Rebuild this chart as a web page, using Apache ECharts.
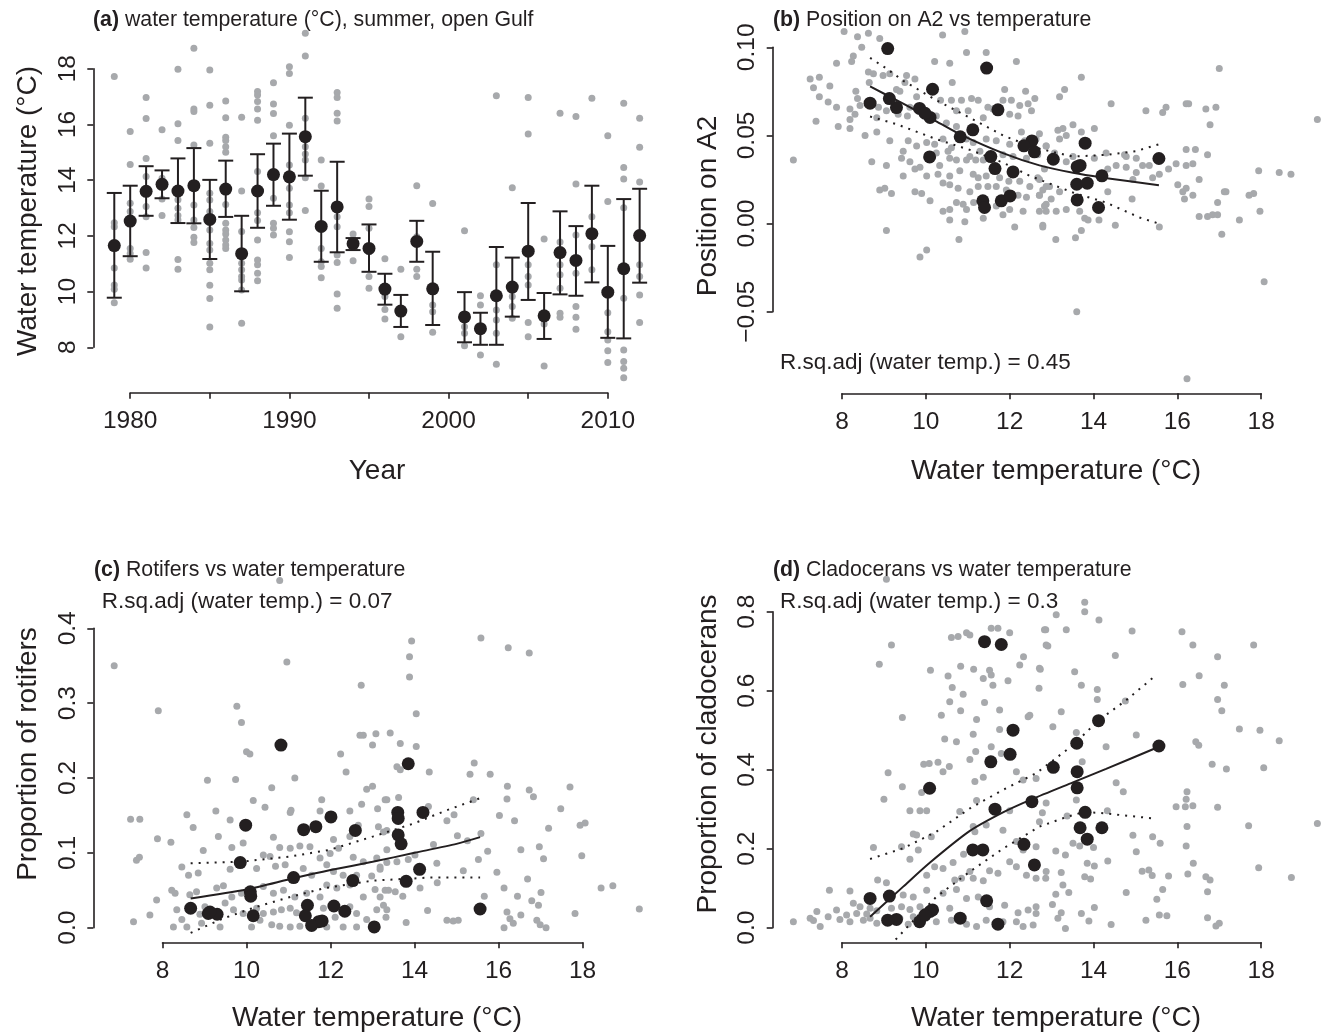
<!DOCTYPE html>
<html><head><meta charset="utf-8">
<script src="https://cdn.jsdelivr.net/npm/echarts@6/dist/echarts.min.js"></script>
<style>html,body{margin:0;padding:0;background:#fff}#c{width:1330px;height:1036px}</style>
</head><body><div id="c"></div>
<script>
// ---------- DATA ----------
const years = [1979,1980,1981,1982,1983,1984,1985,1986,1987,1988,1989,1990,1991,1992,1993,1994,1995,1996,1997,1998,1999,2001,2002,2003,2004,2005,2006,2007,2008,2009,2010,2011,2012];
const meanTemp = [11.65,12.53,13.60,13.85,13.61,13.80,12.59,13.68,11.36,13.61,14.20,14.12,15.56,12.34,13.04,11.72,11.55,10.09,9.30,11.80,10.10,9.09,8.67,9.85,10.16,11.45,9.13,11.40,11.12,12.08,9.98,10.82,12.01];
const ciHigh = [13.54,13.80,14.50,14.35,14.78,15.15,14.01,14.70,12.72,14.93,15.31,15.67,16.96,13.62,14.66,11.92,12.41,10.64,9.88,12.54,11.43,9.98,9.24,11.60,11.22,13.18,9.95,12.88,12.35,13.80,11.64,13.32,13.69];
const ciLow = [9.78,11.27,12.72,13.35,12.46,12.45,11.17,12.68,10.01,12.29,13.08,12.58,14.16,11.07,11.41,11.49,10.71,9.53,8.73,11.07,8.80,8.18,8.09,8.09,9.10,9.70,8.30,9.90,9.85,10.33,8.34,8.32,10.32];
const posA2 = [0.0312,0.0469,0.0223,0.0229,0.0134,0.0456,0.0407,0.0330,0.0129,0.0323,0.0271,0.0091,0.0369,0.0441,0.0365,0.0645,0.0380,0.0378,0.0658,0.0129,0.0602,0.0993,0.0683,0.0653,0.0762,0.0882,0.0709,0.0091,0.0532,0.0293,0.0626,0.0492,0.0157];
const rotifers = [0.135,0.063,0.154,0.219,0.124,0.062,0.130,0.112,0.131,0.146,0.154,0.078,0.025,0.022,0.001,0.008,0.003,0.048,0.018,0.009,0.042,0.019,0.026,0.087,0.016,0.030,0.021,0.016,0.067,0.029,0.137,0.244,0.148];
const cladocerans = [0.300,0.319,0.467,0.224,0.395,0.292,0.159,0.253,0.197,0.354,0.253,0.524,0.460,0.211,0.406,0.009,0.420,0.353,0.021,0.717,0.041,0.019,0.074,0.015,0.045,0.068,0.080,0.724,0.197,0.500,0.032,0.024,0.439];

const greyA = [
[1979,17.72],[1979,12.47],[1979,12.33],[1979,10.85],[1979,10.24],[1979,10.08],[1979,9.60],
[1980,15.75],[1980,14.56],[1980,13.17],[1980,12.87],[1980,11.55],[1980,11.37],[1980,11.16],
[1981,16.97],[1981,16.21],[1981,14.78],[1981,14.13],[1981,13.05],[1981,12.69],[1981,11.40],[1981,10.85],
[1982,15.81],[1982,14.07],[1982,13.89],[1982,13.32],[1982,12.73],
[1983,17.98],[1983,16.02],[1983,15.42],[1983,13.30],[1983,12.99],[1983,12.73],[1983,12.57],[1983,11.15],[1983,10.80],
[1984,18.73],[1984,16.55],[1984,16.46],[1984,15.26],[1984,13.11],[1984,12.57],[1984,12.30],[1984,11.95],[1984,11.76],
[1985,17.95],[1985,16.69],[1985,15.32],[1985,13.53],[1985,13.29],[1985,12.87],[1985,12.21],[1985,11.73],[1985,11.49],[1985,11.02],[1985,10.78],[1985,10.23],[1985,9.75],[1985,8.73],
[1986,16.84],[1986,16.24],[1986,15.54],[1986,15.42],[1986,15.20],[1986,15.00],[1986,13.13],[1986,12.45],[1986,12.21],[1986,12.07],[1986,11.85],[1986,11.67],[1986,11.55],
[1987,16.26],[1987,13.61],[1987,12.16],[1987,11.02],[1987,10.78],[1987,10.54],[1987,10.42],[1987,10.06],[1987,8.86],
[1988,17.18],[1988,17.06],[1988,16.82],[1988,16.55],[1988,16.15],[1988,14.31],[1988,12.83],[1988,12.55],[1988,11.85],[1988,11.13],[1988,10.96],[1988,10.66],[1988,10.39],
[1989,17.50],[1989,16.73],[1989,16.39],[1989,15.59],[1989,13.35],[1989,12.45],[1989,12.27],[1989,12.03],
[1990,18.07],[1990,17.83],[1990,15.97],[1990,14.54],[1990,13.71],[1990,13.11],[1990,12.83],[1990,12.15],[1990,11.79],[1990,11.22],
[1991,19.27],[1991,18.46],[1991,16.22],[1991,15.20],[1991,14.94],[1991,14.72],[1991,14.09],[1991,12.91],
[1992,14.72],[1992,13.79],[1992,11.55],[1992,11.07],[1992,10.90],[1992,10.50],
[1993,17.15],[1993,16.97],[1993,16.40],[1993,16.12],[1993,12.69],[1993,12.33],[1993,11.31],[1993,11.04],[1993,9.91],[1993,9.40],
[1994,12.07],[1994,11.88],[1994,11.11],
[1995,13.32],[1995,13.05],[1995,12.27],[1995,11.43],[1995,10.54],[1995,10.12],
[1996,11.18],[1996,9.82],[1996,9.36],[1996,9.02],
[1997,10.80],[1997,9.22],[1997,8.38],
[1998,13.80],[1998,11.97],[1998,10.80],[1998,10.54],
[1999,13.16],[1999,9.52],[1999,9.28],[1999,8.54],
[2001,12.18],[2001,8.74],[2001,8.50],[2001,8.06],
[2002,9.85],[2002,9.52],[2002,7.72],
[2003,17.03],[2003,10.96],[2003,9.34],[2003,8.98],[2003,8.50],[2003,7.39],
[2004,13.73],[2004,9.82],[2004,9.46],[2004,9.04],
[2005,16.97],[2005,15.66],[2005,10.96],[2005,10.54],[2005,10.24],[2005,8.89],[2005,8.38],
[2006,11.89],[2006,9.10],[2006,8.84],[2006,7.33],
[2007,16.40],[2007,11.78],[2007,10.96],[2007,10.60],[2007,10.12],[2007,9.22],[2007,9.08],
[2008,16.28],[2008,13.86],[2008,12.03],[2008,10.66],[2008,9.46],[2008,9.08],[2008,8.65],
[2009,16.94],[2009,12.69],[2009,11.61],[2009,10.78],
[2010,15.59],[2010,13.23],[2010,9.24],[2010,8.56],[2010,8.26],[2010,7.88],[2010,7.45],
[2011,16.76],[2011,14.45],[2011,14.04],[2011,13.01],[2011,9.76],[2011,7.90],[2011,7.49],[2011,7.25],[2011,6.91],
[2012,16.22],[2012,15.18],[2012,13.93],[2012,10.96],[2012,10.54],[2012,9.88],[2012,8.89]];

const greyB = [
[8.05,0.109],[8.37,0.106],[8.63,0.108],[8.90,0.105],[8.47,0.100],[8.27,0.095],[8.23,0.092],[7.87,0.091],[10.40,0.107],[10.97,0.097],[11.44,0.097],[10.21,0.092],[10.57,0.091],[12.16,0.092],[10.93,0.109],
[7.24,0.082],[7.46,0.083],[7.32,0.077],[7.71,0.078],[8.63,0.086],[8.75,0.085],[8.98,0.084],[9.14,0.085],[9.54,0.084],[9.74,0.082],[8.65,0.080],[9.50,0.080],[9.38,0.075],[9.30,0.076],[9.78,0.072],[8.33,0.075],[10.63,0.080],[11.88,0.076],[12.38,0.075],
[7.46,0.072],[7.67,0.069],[7.87,0.066],[8.37,0.071],[8.43,0.067],[8.19,0.065],[8.31,0.062],[8.83,0.060],[8.19,0.059],[8.87,0.066],[9.06,0.064],[9.34,0.062],[9.56,0.061],[9.62,0.066],[10.35,0.070],[10.61,0.070],[10.85,0.070],[11.09,0.071],[11.25,0.070],[11.48,0.066],[11.60,0.065],[11.84,0.070],[12.04,0.070],[12.24,0.067],[12.44,0.068],[12.60,0.071],[10.73,0.064],[11.01,0.064],[11.37,0.060],[12.00,0.062],[12.20,0.061],[12.52,0.064],[7.38,0.058],[7.91,0.055],[8.19,0.054],[8.55,0.050],[8.83,0.052],[10.25,0.061],[10.49,0.057],[10.73,0.055],
[9.14,0.047],[9.58,0.047],[9.78,0.044],[10.02,0.046],[10.21,0.045],[10.41,0.048],[10.61,0.043],[10.97,0.048],[11.13,0.046],[11.44,0.048],[11.68,0.047],[12.00,0.045],[12.28,0.052],[12.36,0.047],[12.63,0.048],[12.87,0.044],[9.46,0.041],[10.25,0.040],[10.53,0.041],[10.73,0.036],[11.05,0.038],[11.29,0.041],[6.84,0.036],[8.71,0.035],[9.42,0.037],[9.62,0.035],[9.86,0.032],[10.33,0.033],[10.57,0.037],[10.97,0.036],[11.19,0.036],[11.37,0.036],[11.84,0.039],[12.08,0.038],[12.40,0.037],[12.67,0.039],
[9.06,0.033],[9.46,0.027],[9.74,0.031],[10.02,0.027],[10.29,0.028],[10.57,0.027],[10.81,0.030],[11.13,0.028],[11.25,0.026],[11.44,0.027],[11.76,0.026],[11.98,0.024],[12.24,0.024],[12.48,0.021],[12.67,0.026],[12.83,0.031],[8.90,0.019],[9.02,0.020],[9.18,0.017],[9.74,0.018],[9.90,0.017],[10.10,0.013],[10.41,0.023],[10.57,0.022],[10.77,0.020],[11.05,0.018],[11.25,0.021],[11.48,0.021],[11.68,0.021],[11.92,0.019],[12.20,0.016],[12.40,0.015],[12.71,0.016],[12.87,0.021],
[10.41,0.007],[10.57,0.008],[10.73,0.012],[10.89,0.011],[10.97,0.008],[11.14,0.012],[11.68,0.010],[12.00,0.008],[12.32,0.007],[12.71,0.007],[12.87,0.011],[10.57,0.002],[10.93,0.001],[11.37,0.003],[11.84,0.005],[12.12,-0.002],[12.79,-0.001],[9.06,-0.004],[10.79,-0.009],[10.02,-0.015],[9.86,-0.019],
[13.71,0.083],[13.31,0.076],[13.19,0.072],[14.42,0.068],[15.25,0.064],[15.73,0.066],[15.65,0.063],[16.21,0.068],[16.27,0.068],[16.68,0.065],[16.92,0.066],[17.00,0.088],[16.78,0.056],[19.34,0.059],
[12.71,0.051],[13.15,0.053],[13.27,0.054],[13.51,0.056],[13.71,0.052],[14.02,0.054],[13.19,0.048],[13.35,0.050],[12.87,0.044],[13.07,0.040],[13.35,0.035],[13.51,0.038],[14.02,0.037],[14.30,0.040],[14.74,0.039],[14.78,0.038],[15.02,0.037],[14.54,0.033],[14.78,0.032],[14.34,0.031],[15.17,0.033],[15.33,0.033],[15.41,0.026],[15.57,0.028],[15.02,0.029],[14.94,0.025],[15.79,0.031],[15.97,0.034],[16.21,0.042],[16.43,0.042],[16.72,0.039],[16.21,0.033],[16.37,0.034],[16.01,0.022],[16.21,0.020],[16.52,0.025],[16.13,0.018],[16.17,0.014],[16.37,0.016],[14.34,0.018],[14.92,0.014],[16.96,0.012],[17.12,0.018],[17.16,0.018],[17.71,0.016],[17.82,0.017],[17.94,0.030],[18.43,0.029],[18.71,0.028],[17.97,0.007],[17.48,0.002],[16.52,0.004],[16.72,0.004],[16.84,0.005],[16.96,0.005],[17.06,-0.006],[15.57,-0.002],[14.52,-0.001],
[12.79,0.019],[13.19,0.018],[12.99,0.014],[12.83,0.010],[12.87,0.007],[13.11,0.007],[13.35,0.008],[13.67,0.007],[13.79,0.003],[13.87,0.002],[14.13,0.002],[13.71,-0.004],[13.57,-0.008],[13.10,-0.009],[12.79,-0.002],[18.07,-0.033],[13.60,-0.050],[16.23,-0.088],[12.71,0.025],[12.71,0.016],[12.95,0.021]];

const greyC = [
[6.85,0.350],[10.79,0.464],[10.96,0.355],[7.90,0.290],[9.77,0.296],[9.88,0.274],[10.00,0.235],[10.08,0.232],[12.73,0.324],[12.70,0.257],[12.78,0.257],[13.08,0.259],[13.00,0.244],[12.24,0.232],[12.37,0.208],[11.15,0.200],[10.60,0.187],[9.07,0.197],[9.74,0.198],[12.86,0.185],[13.00,0.189],
[10.16,0.170],[10.44,0.161],[11.04,0.154],[11.06,0.157],[11.79,0.171],[11.75,0.156],[12.46,0.156],[12.74,0.165],[13.12,0.159],[13.30,0.171],[8.58,0.151],[9.27,0.156],[7.24,0.145],[7.46,0.145],[8.73,0.134],[9.61,0.144],[9.33,0.122],[7.88,0.119],[8.20,0.114],[9.92,0.113],[10.64,0.121],[10.79,0.107],[11.04,0.106],[11.27,0.109],[12.07,0.118],[12.19,0.106],[12.66,0.137],[12.46,0.122],[13.14,0.135],[13.34,0.130],
[7.38,0.090],[7.45,0.094],[8.97,0.103],[9.65,0.107],[10.40,0.097],[10.56,0.095],[11.51,0.108],[11.75,0.093],[11.99,0.099],[12.54,0.094],[12.78,0.088],[13.10,0.093],[8.46,0.081],[8.62,0.070],[8.85,0.073],[9.61,0.078],[10.24,0.079],[10.69,0.082],[10.92,0.084],[11.35,0.079],[11.55,0.070],[11.91,0.084],[12.07,0.075],[12.30,0.070],[12.62,0.070],[12.98,0.069],[13.18,0.078],[13.34,0.087],
[8.22,0.050],[8.30,0.046],[8.65,0.044],[8.81,0.048],[9.29,0.053],[9.45,0.056],[9.65,0.041],[9.88,0.046],[10.40,0.055],[10.64,0.046],[10.88,0.050],[11.15,0.041],[11.43,0.046],[11.75,0.041],[11.91,0.057],[12.15,0.053],[12.46,0.057],[12.78,0.041],[13.06,0.051],[13.30,0.050],
[7.86,0.037],[7.70,0.017],[7.31,0.008],[8.34,0.024],[8.46,0.011],[8.58,0.001],[8.89,0.018],[9.01,0.028],[9.49,0.033],[9.69,0.024],[9.92,0.019],[10.24,0.026],[10.40,0.019],[10.64,0.021],[10.83,0.024],[11.04,0.026],[11.19,0.020],[11.83,0.026],[12.11,0.014],[12.46,0.028],[12.62,0.019],[12.86,0.011],[13.10,0.024],[13.26,0.030],[9.37,0.001],[10.12,0.001],[10.32,0.010],[10.60,0.004],[10.79,0.002],[11.04,0.001],[11.27,0.002],[11.91,0.001],[12.30,0.001],[12.62,0.001],[8.26,0.001],[8.93,0.006],
[13.93,0.383],[13.88,0.362],[13.88,0.335],[15.58,0.387],[16.23,0.374],[16.73,0.367],[14.04,0.286],[13.42,0.260],[13.66,0.246],[14.04,0.242],[13.58,0.215],[13.66,0.211],[14.35,0.208],[15.42,0.220],[15.32,0.205],[15.80,0.205],[13.34,0.171],[13.62,0.174],[14.33,0.162],[16.21,0.189],[16.20,0.172],[16.73,0.184],[16.83,0.175],[17.70,0.188],[17.48,0.159],[17.19,0.133],[17.94,0.137],[18.06,0.140],[14.94,0.151],[14.77,0.143],[15.40,0.171],[16.02,0.150],[16.38,0.143],
[13.26,0.128],[14.45,0.111],[15.02,0.123],[15.26,0.116],[15.58,0.126],[13.85,0.091],[14.01,0.097],[13.34,0.104],[14.53,0.086],[15.52,0.091],[15.74,0.102],[16.53,0.104],[16.97,0.108],[17.07,0.092],[17.98,0.096],[13.58,0.088],[13.18,0.081],[15.16,0.076],[15.96,0.074],[16.69,0.065],
[13.38,0.050],[13.54,0.048],[13.72,0.042],[14.13,0.053],[14.54,0.060],[15.66,0.042],[16.13,0.053],[16.45,0.042],[16.79,0.036],[17.01,0.047],[16.95,0.030],[18.44,0.053],[18.72,0.056],[13.34,0.024],[14.31,0.023],[14.77,0.010],[14.92,0.009],[15.04,0.010],[16.20,0.021],[16.27,0.012],[16.35,0.006],[16.53,0.017],[16.91,0.010],[16.99,0.004],[17.13,0.000],[16.13,0.000],[13.80,0.007],[13.32,0.014],[17.82,0.019],[19.35,0.025],[13.18,0.041]];

const greyD = [
[9.06,0.882],[9.18,0.716],[8.89,0.667],[10.61,0.735],[10.77,0.737],[10.97,0.747],[11.05,0.741],[11.56,0.758],[11.72,0.758],[12.00,0.747],[12.86,0.754],[12.91,0.713],[10.11,0.652],[10.53,0.637],[10.83,0.662],[11.14,0.654],[11.37,0.631],[11.56,0.640],[11.52,0.652],[10.63,0.608],[10.89,0.591],[11.60,0.614],[11.96,0.625],[12.24,0.665],[12.33,0.686],[12.70,0.606],[12.73,0.654],
[10.57,0.572],[10.83,0.549],[11.21,0.527],[11.40,0.570],[11.76,0.551],[9.44,0.532],[10.37,0.538],[11.13,0.490],[11.76,0.502],[12.44,0.534],[12.48,0.538],[10.45,0.478],[10.73,0.471],[11.05,0.426],[11.19,0.446],[11.56,0.458],[11.80,0.441],[12.16,0.395],[12.32,0.374],[12.63,0.378],[9.10,0.392],[9.44,0.357],[9.95,0.414],[10.08,0.416],[10.29,0.419],[10.41,0.395],[10.56,0.408],[11.17,0.370],[11.37,0.381],
[9.90,0.342],[9.00,0.325],[9.62,0.296],[9.86,0.296],[10.02,0.296],[10.81,0.294],[11.21,0.322],[12.00,0.296],[12.71,0.268],[9.78,0.235],[9.70,0.237],[10.13,0.230],[11.13,0.256],[11.44,0.260],[11.84,0.247],[12.16,0.218],[12.32,0.197],[12.63,0.205],[8.75,0.203],[9.42,0.205],[9.62,0.173],[9.82,0.197],[11.17,0.243],
[8.19,0.093],[9.06,0.114],[8.85,0.121],[7.70,0.095],[10.02,0.133],[10.21,0.154],[10.41,0.150],[10.65,0.165],[10.90,0.186],[11.05,0.142],[11.52,0.144],[11.72,0.138],[12.00,0.167],[12.16,0.154],[12.40,0.133],[12.63,0.125],[12.87,0.142],[10.69,0.121],[10.85,0.125],[11.13,0.125],[11.37,0.119],
[9.46,0.083],[9.70,0.078],[10.02,0.095],[10.41,0.087],[10.73,0.097],[10.97,0.074],[11.25,0.078],[11.52,0.053],[11.88,0.057],[12.20,0.038],[12.44,0.045],[12.63,0.053],[8.27,0.062],[8.43,0.053],[8.67,0.049],[8.83,0.043],[9.18,0.049],[9.42,0.053],[9.62,0.046],[9.86,0.053],[10.57,0.049],
[6.84,0.015],[7.24,0.024],[7.40,0.041],[7.32,0.018],[7.48,0.003],[7.67,0.028],[7.87,0.045],[7.95,0.021],[8.11,0.032],[8.19,0.015],[8.35,0.036],[8.51,0.019],[8.59,0.035],[8.67,0.024],[8.83,0.011],[9.38,0.024],[9.58,0.009],[9.70,0.028],[10.25,0.015],[10.61,0.019],[10.97,0.009],[11.21,0.003],[11.44,0.019],[11.84,0.015],[12.16,0.015],[12.32,0.003],[12.56,0.007],[12.63,0.036],
[13.79,0.824],[13.79,0.800],[13.11,0.792],[14.13,0.779],[12.83,0.754],[13.35,0.754],[14.92,0.751],[16.11,0.749],[12.87,0.716],[16.37,0.716],[17.82,0.716],[14.52,0.689],[16.96,0.686],[13.55,0.648],[16.52,0.638],[12.71,0.657],[13.71,0.614],[14.09,0.603],[16.13,0.616],[17.12,0.614],[14.09,0.578],[14.76,0.574],[16.96,0.578],[17.06,0.549],[13.23,0.547],[13.03,0.509],[13.59,0.494],[15.02,0.488],[17.48,0.503],[17.97,0.500],[18.43,0.473],[14.30,0.458],[16.44,0.471],[16.51,0.462],
[13.73,0.420],[16.83,0.414],[17.17,0.402],[18.06,0.405],[14.54,0.367],[14.71,0.344],[16.23,0.344],[16.21,0.325],[16.19,0.306],[15.97,0.306],[16.37,0.309],[16.96,0.305],[13.59,0.323],[12.87,0.316],[14.33,0.296],[13.37,0.283],[12.78,0.291],[17.70,0.258],[19.34,0.264],[16.23,0.256],[14.94,0.234],[15.41,0.230],[15.59,0.214],[13.67,0.207],[13.51,0.214],[14.00,0.203],[16.21,0.207],[13.10,0.194],[13.33,0.184],[15.02,0.192],
[14.34,0.169],[16.38,0.163],[13.85,0.163],[14.02,0.156],[15.16,0.143],[15.32,0.146],[15.40,0.132],[15.79,0.131],[16.25,0.136],[16.68,0.129],[16.78,0.121],[17.94,0.152],[18.72,0.127],[13.23,0.140],[12.86,0.125],[13.79,0.129],[13.93,0.123],[13.27,0.108],[13.41,0.089],[13.10,0.085],[15.65,0.097],[15.51,0.072],[16.72,0.091],[14.78,0.089],
[13.02,0.059],[14.02,0.051],[13.71,0.036],[13.23,0.038],[13.15,0.024],[13.33,-0.002],[13.89,0.017],[14.42,0.008],[15.25,0.019],[15.57,0.032],[15.75,0.030],[16.72,0.025],[17.00,0.011],[16.92,0.004]];

// fitted smooths and confidence bands
const fitB   = [[8.67,0.0778],[9.46,0.0680],[10.25,0.0580],[10.83,0.0505],[11.84,0.0400],[12.71,0.0330],[13.51,0.0288],[14.18,0.0262],[15.56,0.0218]];
const fitBHi = [[8.67,0.094],[9.06,0.088],[9.46,0.081],[10.25,0.070],[11.05,0.060],[11.84,0.050],[12.48,0.044],[12.79,0.042],[13.51,0.038],[14.30,0.039],[15.00,0.041],[15.56,0.045]];
const fitBLo = [[8.67,0.0607],[9.30,0.0564],[10.25,0.0479],[11.05,0.0418],[11.84,0.0346],[12.48,0.0271],[12.79,0.0242],[13.51,0.0176],[14.30,0.0119],[15.10,0.0034],[15.56,0.0000]];
const fitC   = [[8.67,0.039],[10.00,0.051],[11.12,0.066],[12.00,0.077],[13.00,0.088],[14.00,0.100],[15.00,0.112],[15.56,0.121]];
const fitCHi = [[8.67,0.086],[9.84,0.088],[11.03,0.095],[11.98,0.104],[13.02,0.122],[13.97,0.139],[14.77,0.157],[15.56,0.173]];
const fitCLo = [[8.67,-0.007],[9.45,0.0125],[10.24,0.028],[11.04,0.041],[11.83,0.0525],[13.02,0.063],[14.37,0.067],[15.56,0.067]];
const fitD   = [[8.67,0.028],[9.46,0.104],[10.10,0.165],[11.05,0.245],[11.84,0.292],[12.52,0.325],[13.51,0.368],[14.30,0.402],[15.56,0.458]];
const fitDHi = [[8.67,0.174],[9.46,0.201],[10.25,0.243],[11.05,0.302],[11.84,0.349],[12.63,0.391],[13.51,0.462],[14.11,0.524],[14.78,0.576],[15.50,0.640]];
const fitDLo = [[9.28,-0.030],[9.86,0.036],[10.25,0.078],[11.05,0.142],[11.84,0.200],[12.71,0.256],[13.35,0.280],[13.74,0.292],[14.13,0.291],[14.94,0.282],[15.40,0.277]];

// tick labels
const ticksA_y = ['8','10','12','14','16','18'];
const ticksA_x = ['1980','','1990','','2000','','2010'];
const ticksB_y = ['\u22120.05','0.00','0.05','0.10'];
const ticksT   = ['8','10','12','14','16','18'];
const ticksC_y = ['0.0','0.1','0.2','0.3','0.4'];
const ticksD_y = ['0.0','0.2','0.4','0.6','0.8'];

// ---------- STYLE ----------
const FONT = '"Liberation Sans", Arial, Helvetica, sans-serif';
const INK = '#231f20';
const GREY = '#a7a9ac';
const TICKFS = 24.5;

function lab(arr, min, step) { return v => { const i = Math.round((v - min) / step); return arr[i] !== undefined ? arr[i] : ''; }; }
function xAx(grid, min, max, step, offset, labels) {
  return { type:'value', gridIndex:grid, min, max, interval:step, offset, position:'bottom',
    axisLine:{show:true, onZero:false, lineStyle:{color:INK, width:1.6}},
    axisTick:{show:true, length:6, lineStyle:{color:INK, width:1.6}},
    axisLabel:{color:INK, fontSize:TICKFS, fontFamily:FONT, margin:16, formatter: lab(labels, min, step)},
    splitLine:{show:false} };
}
function yAx(grid, min, max, step, offset, labels) {
  return { type:'value', gridIndex:grid, min, max, interval:step, offset, position:'left',
    axisLine:{show:true, onZero:false, lineStyle:{color:INK, width:1.6}},
    axisTick:{show:true, length:6, lineStyle:{color:INK, width:1.6}},
    axisLabel:{color:INK, fontSize:TICKFS, fontFamily:FONT, margin:13, rotate:90, formatter: lab(labels, min, step)},
    splitLine:{show:false} };
}
function greySeries(ax, data) {
  return { type:'scatter', xAxisIndex:ax, yAxisIndex:ax, data, symbolSize:7, clip:false, silent:true,
    itemStyle:{color:GREY, opacity:1}, z:2 };
}
function blackSeries(ax, data) {
  return { type:'scatter', xAxisIndex:ax, yAxisIndex:ax, data, symbolSize:13, clip:false, silent:true,
    itemStyle:{color:INK, opacity:1}, z:5 };
}
function lineSeries(ax, data, dotted) {
  return { type:'line', xAxisIndex:ax, yAxisIndex:ax, data, showSymbol:false, symbol:'none', clip:false, silent:true,
    smooth: dotted ? false : 0.25,
    lineStyle:{color:INK, width: 2, type: dotted ? [2,6] : 'solid'}, z:4 };
}
function txt(x, y, text, size, extra) {
  const el = { type:'text', x, y, silent:true, z:10,
    style:{ text, fontSize:size, fontFamily:FONT, fill:INK, align:'left', verticalAlign:'middle',
      rich:{ b:{ fontWeight:'bold', fontSize:size, fontFamily:FONT, fill:INK } } } };
  if (extra) { if (extra.align) el.style.align = extra.align; if (extra.rotation) el.rotation = extra.rotation; }
  return el;
}

const option = {
  animation:false,
  backgroundColor:'#fff',
  grid:[
    {left:130.2, top:68.7, width:477.6, height:278.6},
    {left:842, top:47.3, width:419.2, height:264.4},
    {left:162.5, top:628.3, width:420.1, height:299.4},
    {left:842, top:611.7, width:419.2, height:316}
  ],
  xAxis:[
    xAx(0, 1980, 2010, 5, 45.4, ticksA_x),
    xAx(1, 8, 18, 2, 81.6, ticksT),
    xAx(2, 8, 18, 2, 14.6, ticksT),
    xAx(3, 8, 18, 2, 14.6, ticksT)
  ],
  yAxis:[
    yAx(0, 8, 18, 2, 36.9, ticksA_y),
    yAx(1, -0.05, 0.10, 0.05, 69.3, ticksB_y),
    yAx(2, 0, 0.4, 0.1, 69.2, ticksC_y),
    yAx(3, 0, 0.8, 0.2, 69.3, ticksD_y)
  ],
  series:[
    greySeries(0, greyA),
    { type:'custom', xAxisIndex:0, yAxisIndex:0, clip:false, silent:true, z:3,
      data: years.map((y,i)=>[y, ciLow[i], ciHigh[i]]),
      renderItem:function(params, api){
        const x = api.value(0);
        const pLo = api.coord([x, api.value(1)]), pHi = api.coord([x, api.value(2)]);
        const cap = 7.5, st = {stroke:INK, lineWidth:2};
        return {type:'group', children:[
          {type:'line', shape:{x1:pLo[0], y1:pLo[1], x2:pHi[0], y2:pHi[1]}, style:st},
          {type:'line', shape:{x1:pLo[0]-cap, y1:pLo[1], x2:pLo[0]+cap, y2:pLo[1]}, style:st},
          {type:'line', shape:{x1:pHi[0]-cap, y1:pHi[1], x2:pHi[0]+cap, y2:pHi[1]}, style:st}
        ]};
      } },
    blackSeries(0, years.map((y,i)=>[y, meanTemp[i]])),

    greySeries(1, greyB),
    lineSeries(1, fitB, false), lineSeries(1, fitBHi, true), lineSeries(1, fitBLo, true),
    blackSeries(1, meanTemp.map((t,i)=>[t, posA2[i]])),

    greySeries(2, greyC),
    lineSeries(2, fitC, false), lineSeries(2, fitCHi, true), lineSeries(2, fitCLo, true),
    blackSeries(2, meanTemp.map((t,i)=>[t, rotifers[i]])),

    greySeries(3, greyD),
    lineSeries(3, fitD, false), lineSeries(3, fitDHi, true), lineSeries(3, fitDLo, true),
    blackSeries(3, meanTemp.map((t,i)=>[t, cladocerans[i]]))
  ],
  graphic:[
    txt(93, 20, '{b|(a)} water temperature (°C), summer, open Gulf', 21.3),
    txt(773, 20, '{b|(b)} Position on A2 vs temperature', 21.3),
    txt(94, 570, '{b|(c)} Rotifers vs water temperature', 21.3),
    txt(773, 570, '{b|(d)} Cladocerans vs water temperature', 21.3),
    txt(780, 362.7, 'R.sq.adj (water temp.) = 0.45', 22.5),
    txt(101.7, 601.7, 'R.sq.adj (water temp.) = 0.07', 22.5),
    txt(780, 601.7, 'R.sq.adj (water temp.) = 0.3', 22.5),
    txt(377, 471.7, 'Year', 28, {align:'center'}),
    txt(1056, 471.7, 'Water temperature (°C)', 28, {align:'center'}),
    txt(377, 1018, 'Water temperature (°C)', 28, {align:'center'}),
    txt(1056, 1018, 'Water temperature (°C)', 28, {align:'center'}),
    txt(28, 211, 'Water temperature (°C)', 28, {align:'center', rotation:Math.PI/2}),
    txt(708, 206, 'Position on A2', 28, {align:'center', rotation:Math.PI/2}),
    txt(28, 754, 'Proportion of rotifers', 28, {align:'center', rotation:Math.PI/2}),
    txt(708, 754, 'Proportion of cladocerans', 28, {align:'center', rotation:Math.PI/2})
  ]
};
const chart = echarts.init(document.getElementById('c'), null, {renderer:'canvas', width:1330, height:1036});
chart.setOption(option);
</script>
</body></html>
